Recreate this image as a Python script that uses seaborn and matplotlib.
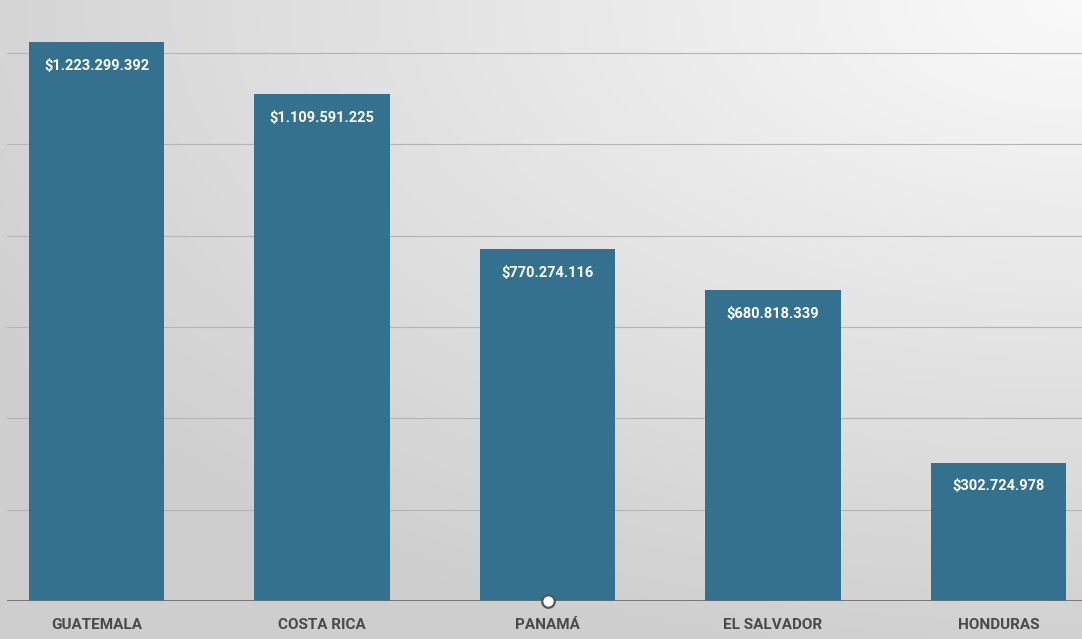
import numpy as np
import pandas as pd
import matplotlib
matplotlib.use("Agg")
import matplotlib.pyplot as plt
import seaborn as sns

# Export totals by country
countries = ["GUATEMALA", "COSTA RICA", "PANAMÁ", "EL SALVADOR", "HONDURAS"]
values = [1223299392, 1109591225, 770274116, 680818339, 302724978]
grid_levels = [200e6, 400e6, 600e6, 800e6, 1000e6, 1200e6]

df = pd.DataFrame({"pais": countries, "valor": values})

sns.set_theme(style="white")
plt.rcParams["font.family"] = ["Roboto", "DejaVu Sans"]

W, H = 1082, 639
fig = plt.figure(figsize=(W / 100, H / 100), dpi=100)

# Soft background: light at the top right, gray towards the bottom left
bg = fig.add_axes([0, 0, 1, 1], zorder=-10)
yy, xx = np.mgrid[0:1:200j, 0:1:300j]
d = np.sqrt(((1 - xx) * 0.9) ** 2 + (yy * 1.0) ** 2)
shade = np.clip(0.98 - 0.16 * d, 0.81, 0.98)
bg.imshow(np.dstack([shade, shade, shade]), extent=[0, 1, 0, 1],
          aspect="auto", origin="upper", interpolation="bicubic")
bg.set_axis_off()

ax = fig.add_axes([7 / W, 1 - 601 / H, 1 - 7 / W, 601 / H])
ax.patch.set_alpha(0)

sns.barplot(data=df, x="pais", y="valor", color="#33718e", saturation=1,
            width=0.6, linewidth=0, ax=ax, zorder=3)

ax.set_xlim(-0.397, 4.37)
ax.set_ylim(0, 1200e6 * 601 / 548)

for g in grid_levels:
    ax.axhline(g, color="#b4b4b4", lw=0.8, zorder=1)
ax.axhline(0, color="#6e6e6e", lw=2.0, zorder=4)

for i, v in enumerate(values):
    label = "$" + f"{v:,}".replace(",", ".")
    ax.annotate(label, (i, v), xytext=(0, -17), textcoords="offset points",
                ha="center", va="center", color="white",
                fontsize=10.5, fontweight="bold", zorder=5)

# Handle marker on the baseline
ax.plot([2], [0], marker="o", ms=9, mfc="white", mec="#555555", mew=1.6,
        clip_on=False, zorder=6)

ax.set_xlabel("")
ax.set_ylabel("")
ax.set_yticks([])
ax.tick_params(axis="x", length=0, pad=12)
for t in ax.get_xticklabels():
    t.set_fontsize(11)
    t.set_fontweight("bold")
    t.set_color("#4a4a4a")
for s in ax.spines.values():
    s.set_visible(False)

fig.savefig("out.png", dpi=100)
